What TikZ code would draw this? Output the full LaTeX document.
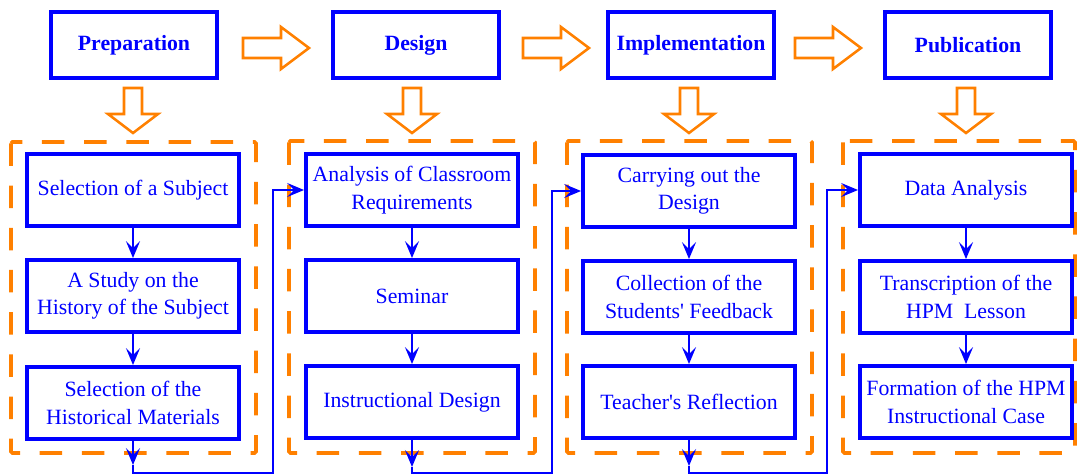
\documentclass[tikz,border=0pt]{standalone}
\usepackage{fontspec}
\setmainfont{Liberation Serif}
\usetikzlibrary{arrows.meta,calc}
\definecolor{StepClr}{rgb}{0,0,1}
\definecolor{PhaseClr}{rgb}{1,0.5,0}

\tikzset{
  phase/.style={draw=StepClr,line width=2.5pt,minimum width=4.15cm,minimum height=1.65cm,
    text=StepClr,font=\fontsize{15.5}{19.5}\selectfont\bfseries},
  stepbox/.style={draw=StepClr,line width=2.8pt,minimum width=5.3cm,minimum height=1.8cm,
    text=StepClr,align=center,font=\fontsize{15.5}{19.5}\selectfont},
  group/.style={draw=PhaseClr,line width=2.6pt,dash pattern=on 16pt off 14pt,rounded corners=1pt},
  hollow/.style={draw=PhaseClr,line width=1.8pt,line join=miter},
  link/.style={draw=StepClr,line width=1.4pt,-{Stealth[length=12pt,width=10pt,inset=5pt]}},
  feed/.style={draw=StepClr,line width=0.9pt,-{Stealth[length=12pt,width=10pt,inset=5pt]}},
  pics/fatright/.style={code={\draw[hollow] (0,-10) -- (38,-10) -- (38,-21) -- (66,0) -- (38,21) -- (38,10) -- (0,10) -- cycle;}},
  pics/fatdown/.style={code={\draw[hollow] (-9,0) -- (-9,26) -- (-25,26) -- (0,45) -- (25,26) -- (9,26) -- (9,0) -- cycle;}}
}

\begin{document}
\begin{tikzpicture}[x=0.025cm,y=-0.025cm]
\useasboundingbox (0,0) rectangle (1079,475);

% phases
\node[phase] (prep) at (134,45) {Preparation};
\node[phase] (desn) at (416,45) {Design};
\node[phase] (impl) at (691,45) {Implementation};
\node[phase] (publ) at (968,45) {Publication};

\pic at (243,48) {fatright};
\pic at (523,48) {fatright};
\pic at (795,48) {fatright};

\pic at (133,88) {fatdown};
\pic at (412,88) {fatdown};
\pic at (689,88) {fatdown};
\pic at (966,88) {fatdown};

% groups
\draw[group] (11,142) rectangle (256,453);
\draw[group] (289,141) rectangle (535,453);
\draw[group] (567,141) rectangle (812,453);
\draw[group] (843,141) rectangle (1075,453);

% steps
\node[stepbox] (a1) at (133,190) {Selection of a Subject};
\node[stepbox] (a2) at (133,296) {A Study on the\\History of the Subject};
\node[stepbox] (a3) at (133,403) {Selection of the\\Historical Materials};

\node[stepbox] (b1) at (412,190) {Analysis of Classroom\\Requirements};
\node[stepbox] (b2) at (412,296) {Seminar};
\node[stepbox] (b3) at (412,402) {Instructional Design};

\node[stepbox] (c1) at (689,191) {Carrying out the\\Design};
\node[stepbox] (c2) at (689,297) {Collection of the\\Students\textquotesingle{} Feedback};
\node[stepbox] (c3) at (689,402) {Teacher\textquotesingle{}s Reflection};

\node[stepbox] (d1) at (966,190) {Data Analysis};
\node[stepbox] (d2) at (966,297) {Transcription of the\\HPM~~Lesson};
\node[stepbox] (d3) at (966,402) {Formation of the HPM\\Instructional Case};

\draw[link] (a1) -- (a2);
\draw[link] (a2) -- (a3);
\draw[link] (b1) -- (b2);
\draw[link] (b2) -- (b3);
\draw[link] (c1) -- (c2);
\draw[link] (c2) -- (c3);
\draw[link] (d1) -- (d2);
\draw[link] (d2) -- (d3);

% hand-over between phases
\coordinate (aout) at ($(a3.south)+(0,24)$);
\coordinate (bout) at ($(b3.south)+(0,27)$);
\coordinate (cout) at ($(c3.south)+(0,26)$);
\coordinate (abturn) at (273,473);
\coordinate (bcturn) at (552,473);
\coordinate (cdturn) at (827,473);

\draw[link] (a3.south) -- (aout);
\draw[feed] (aout) |- (abturn) |- (b1.west);
\draw[link] (b3.south) -- (bout);
\draw[feed] (bout) |- (bcturn) |- (c1.west);
\draw[link] (c3.south) -- (cout);
\draw[feed] (cout) |- (cdturn) |- (d1.west);

\end{tikzpicture}
\end{document}
